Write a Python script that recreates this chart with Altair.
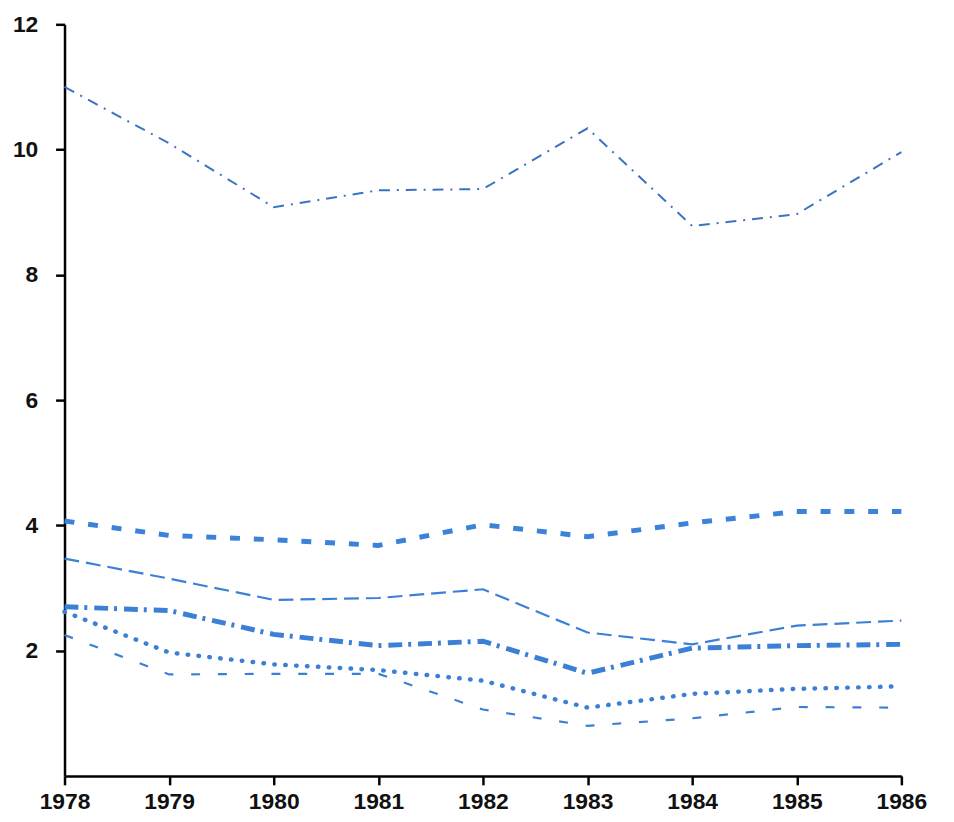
import altair as alt
import pandas as pd

years = [1978, 1979, 1980, 1981, 1982, 1983, 1984, 1985, 1986]

series_a = [11.0, 10.1, 9.08, 9.35, 9.37, 10.34, 8.78, 8.97, 9.96]
series_b = [4.07, 3.84, 3.77, 3.68, 4.01, 3.82, 4.04, 4.22, 4.22]
series_c = [3.47, 3.15, 2.81, 2.84, 2.98, 2.29, 2.10, 2.40, 2.48]
series_d = [2.70, 2.64, 2.26, 2.08, 2.15, 1.64, 2.04, 2.08, 2.10]
series_e = [2.62, 1.97, 1.78, 1.69, 1.52, 1.09, 1.31, 1.39, 1.43]
series_f = [2.25, 1.62, 1.63, 1.63, 1.06, 0.80, 0.92, 1.10, 1.09]

y_ticks = [2, 4, 6, 8, 10, 12]

series = {
    "A": series_a, "B": series_b, "C": series_c,
    "D": series_d, "E": series_e, "F": series_f,
}

styles = {
    "A": dict(strokeDash=[11, 7, 2, 7], strokeWidth=2, color="#3a72c4"),
    "B": dict(strokeDash=[10, 14], strokeWidth=5, color="#3b82d8"),
    "C": dict(strokeDash=[15, 7], strokeWidth=2.2, color="#3b80d6"),
    "D": dict(strokeDash=[14, 6, 3, 7], strokeWidth=5, color="#3b80d6"),
    "E": dict(strokeDash=[0.5, 10.5], strokeWidth=4.5, color="#3b80d6", strokeCap="round"),
    "F": dict(strokeDash=[9, 18], strokeWidth=2.2, color="#3b80d6"),
}

x_enc = alt.X(
    "year:Q",
    scale=alt.Scale(domain=[1978, 1986], nice=False, zero=False),
    axis=alt.Axis(values=years, format="d", title=None, grid=False,
                  tickSize=9, tickWidth=2.5, tickColor="black",
                  domainColor="black", domainWidth=2.5,
                  labelFontSize=23, labelFontWeight="bold", labelColor="#111",
                  labelFont="Liberation Sans", labelPadding=6, labelFlush=False),
)
y_enc = alt.Y(
    "value:Q",
    scale=alt.Scale(domain=[0, 12], nice=False),
    axis=alt.Axis(values=y_ticks, title=None, grid=False,
                  tickSize=9, tickWidth=2.5, tickColor="black",
                  domainColor="black", domainWidth=2.5,
                  labelFontSize=23, labelFontWeight="bold", labelColor="#111",
                  labelFont="Liberation Sans", labelPadding=18),
)

layers = []
for name, vals in series.items():
    df = pd.DataFrame({"year": years, "value": vals})
    st = styles[name]
    mark_kwargs = dict(strokeDash=st["strokeDash"], strokeWidth=st["strokeWidth"],
                       color=st["color"])
    if "strokeCap" in st:
        mark_kwargs["strokeCap"] = st["strokeCap"]
    layers.append(alt.Chart(df).mark_line(**mark_kwargs).encode(x=x_enc, y=y_enc))

chart = alt.layer(*layers).properties(
    width=844, height=758,
    background="white",
    autosize=alt.AutoSizeParams(type="none"),
    padding={"left": 57, "top": 13, "right": 45, "bottom": 40},
).configure_view(strokeWidth=0, stroke="transparent")

chart.save("out.html", embed_options={"renderer": "svg", "actions": False})
